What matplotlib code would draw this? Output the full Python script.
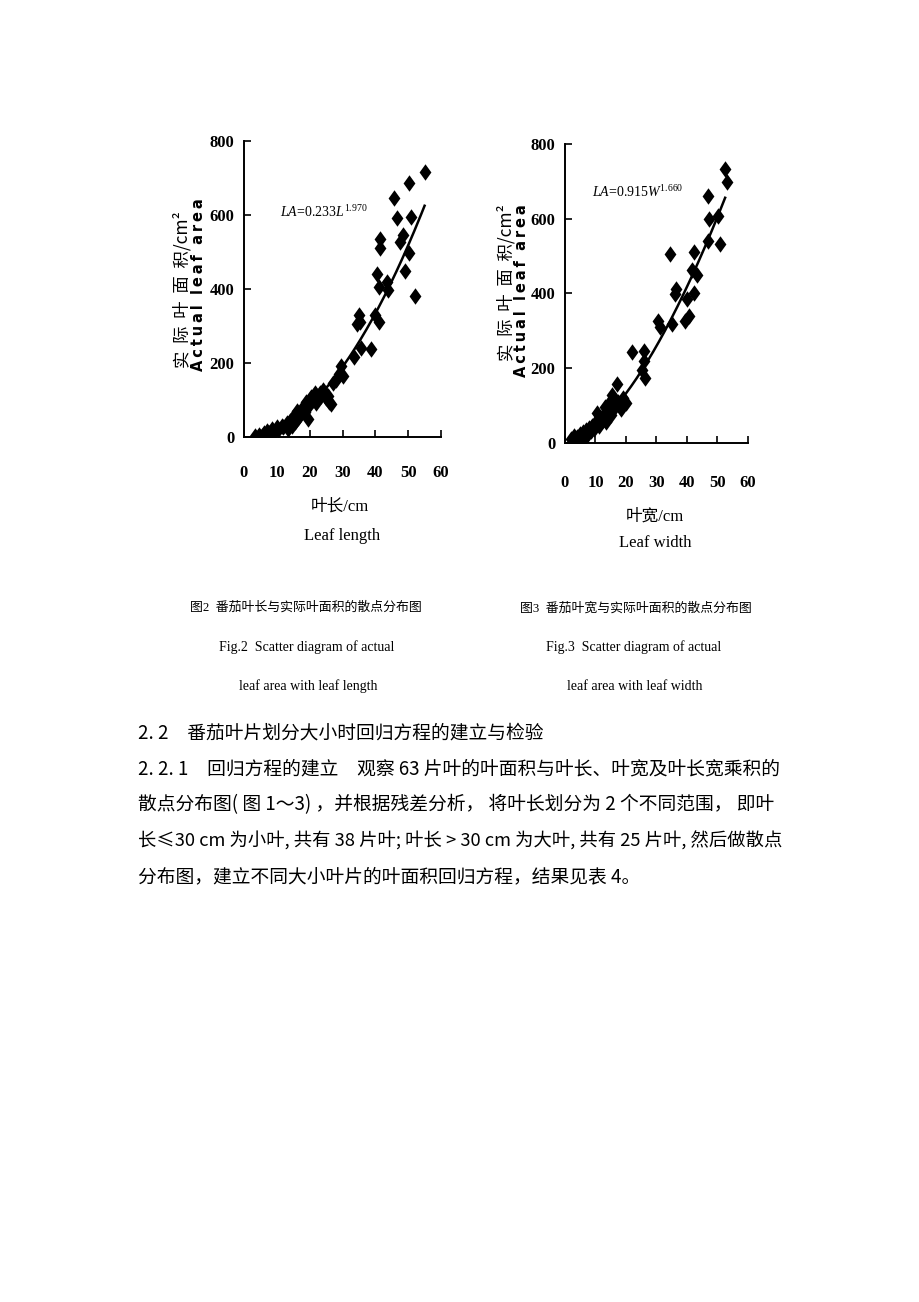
import numpy as np
import matplotlib
matplotlib.use("Agg")
import matplotlib.pyplot as plt

largo_L = [3.5, 4.5, 5.5, 6, 7, 7.5, 8.5, 9, 10, 10.5, 11.5, 12, 13, 13.5, 14, 14.5,
           15, 15.5, 16, 16.5, 17, 18, 18.5, 19, 19.5, 20, 20.5, 21, 21.5, 22, 23,
           23.5, 24, 25, 25.5, 26, 26.5, 27, 28, 29, 29.5, 30, 33.5, 34.5, 35, 35.2,
           35.5, 38.8, 40, 40.5, 41, 41.2, 41.3, 41.5, 43.5, 44, 45.6, 46.6, 47.4,
           48.4, 48.9, 50.2, 50.2, 50.8, 52.2, 55]
area_L = [2, 6, 3, 12, 16, 10, 22, 14, 28, 20, 30, 26, 38, 22, 44, 30,
          55, 40, 70, 52, 60, 80, 68, 95, 48, 88, 108, 100, 118, 92, 120,
          110, 126, 105, 112, 95, 88, 145, 155, 170, 192, 165, 215, 305, 330, 310,
          240, 238, 330, 440, 310, 405, 535, 510, 420, 398, 645, 592, 528,
          546, 448, 687, 497, 595, 380, 717]

ancho_W = [2, 2.5, 3, 3.5, 4, 5, 5.5, 6, 6.5, 7, 7.5, 8, 8.5, 9, 9.5, 10, 10.5,
           11, 11.5, 12, 12.5, 13, 13.5, 14, 14.5, 15, 15.5, 16, 16.5, 17, 17.5,
           18, 18.5, 19, 19.5, 20, 21.9, 25.2, 25.8, 26, 26.3, 30.6, 31.2, 34.4,
           35, 36, 36.5, 39.3, 40, 40.8, 41.5, 42.3, 42.3, 43.2, 47, 47.2, 47,
           50.1, 50.8, 52.5, 53.2]
area_W = [10, 4, 18, 6, 14, 22, 10, 28, 16, 34, 24, 40, 30, 46, 36, 52, 80,
          44, 60, 70, 62, 95, 55, 88, 105, 75, 128, 118, 95, 158, 110,
          100, 90, 120, 112, 105, 242, 195, 245, 220, 172, 325, 310, 505,
          318, 398, 412, 325, 385, 338, 462, 512, 402, 448, 540, 598, 660,
          608, 532, 732, 698]

# ecuaciones de regresion
coef_L, exp_L = 0.233, 1.970
coef_W, exp_W = 0.915, 1.660

x_ticks = [0, 10, 20, 30, 40, 50, 60]
y_ticks = [0, 200, 400, 600, 800]

cjk = ["Noto Sans CJK SC", "DejaVu Sans"]
serif = ["Liberation Serif", "Noto Sans CJK SC"]

plt.rcParams["mathtext.fontset"] = "custom"
plt.rcParams["mathtext.it"] = "Liberation Serif:italic"
plt.rcParams["mathtext.rm"] = "Liberation Serif"

fig = plt.figure(figsize=(9.2, 13.02), dpi=100)

# marcador rombo alto como en el escaneo
rombo = [(0, 1), (0.72, 0), (0, -1), (-0.72, 0), (0, 1)]


def grafico(rect, xs, ys, coef, expo, x_fin, eq_pos, eq_txt, xpad):
    ax = fig.add_axes(rect)
    ax.scatter(xs, ys, marker=rombo, s=140, c="black", linewidths=0, zorder=3)
    xc = np.linspace(3, x_fin, 200)
    ax.plot(xc, coef * xc ** expo, color="black", lw=1.8, zorder=2)
    ax.set_xlim(0, 60)
    ax.set_ylim(0, 800)
    ax.set_xticks(x_ticks)
    ax.set_yticks(y_ticks)
    ax.spines["top"].set_visible(False)
    ax.spines["right"].set_visible(False)
    ax.spines["left"].set_linewidth(1.4)
    ax.spines["bottom"].set_linewidth(1.4)
    ax.tick_params(axis="both", direction="in", length=5, width=1.2)
    ax.tick_params(axis="x", pad=xpad)
    ax.tick_params(axis="y", pad=7)
    for lab in ax.get_xticklabels() + ax.get_yticklabels():
        lab.set_fontfamily("Liberation Serif")
        lab.set_fontsize(12)
        lab.set_fontweight("bold")
    ax.text(eq_pos[0], eq_pos[1], eq_txt, fontsize=10, family="Liberation Serif",
            va="center")
    ax.patch.set_alpha(0)
    return ax


grafico([244 / 920, 1 - 437 / 1302, 197 / 920, 296 / 1302], largo_L, area_L,
        coef_L, exp_L, 55, (11, 608), r"$LA$=0.233$L^{1.970}$", 20)
grafico([565 / 920, 1 - 442.7 / 1302, 183 / 920, 298.7 / 1302], ancho_W, area_W,
        coef_W, exp_W, 52.5, (8.8, 672), r"$LA$=0.915$W^{1.660}$", 23)


def ft(x, y, s, **kw):
    fig.text(x / 920, 1 - y / 1302, s, **kw)


# etiquetas de ejes (texto espaciado como en el escaneo)
ylab_cn = "实  际  叶  面  积/cm²"
ylab_en = "\u2009".join("Actual") + "  " + "\u2009".join("leaf") + "  " + "\u2009".join("area")
ft(182, 290, ylab_cn, rotation=90, fontsize=12.5, family=cjk,
   ha="center", va="center")
ft(199, 285, ylab_en, rotation=90, fontsize=10.5, family="DejaVu Sans",
   fontweight="bold", ha="center", va="center")
ft(506, 283, ylab_cn, rotation=90, fontsize=12.5, family=cjk,
   ha="center", va="center")
ft(522, 291, ylab_en, rotation=90, fontsize=10.5, family="DejaVu Sans",
   fontweight="bold", ha="center", va="center")

ft(340, 507, "叶长/cm", fontsize=12, family=serif, ha="center", va="center")
ft(342, 536, "Leaf length", fontsize=12, family=serif, ha="center", va="center")
ft(655, 517, "叶宽/cm", fontsize=12, family=serif, ha="center", va="center")
ft(655, 543, "Leaf width", fontsize=12, family=serif, ha="center", va="center")

# pies de figura
ft(306, 608, "图2  番茄叶长与实际叶面积的散点分布图", fontsize=9.3, family=serif,
   ha="center", va="center")
ft(307, 647, "Fig.2  Scatter diagram of actual", fontsize=10, family=serif,
   ha="center", va="center")
ft(308, 686, "leaf area with leaf length", fontsize=10, family=serif,
   ha="center", va="center")
ft(636, 608, "图3  番茄叶宽与实际叶面积的散点分布图", fontsize=9.3, family=serif,
   ha="center", va="center")
ft(634, 647, "Fig.3  Scatter diagram of actual", fontsize=10, family=serif,
   ha="center", va="center")
ft(635, 686, "leaf area with leaf width", fontsize=10, family=serif,
   ha="center", va="center")

# texto del cuerpo
cuerpo = [
    "2. 2　番茄叶片划分大小时回归方程的建立与检验",
    "2. 2. 1　回归方程的建立　观察 63 片叶的叶面积与叶长、叶宽及叶长宽乘积的",
    "散点分布图( 图 1～3) ，并根据残差分析， 将叶长划分为 2 个不同范围， 即叶",
    "长≤30 cm 为小叶, 共有 38 片叶; 叶长 > 30 cm 为大叶, 共有 25 片叶, 然后做散点",
    "分布图，建立不同大小叶片的叶面积回归方程，结果见表 4。",
]
for i, linea in enumerate(cuerpo):
    tam = 13.2 if i == 3 else 13.5
    ft(138, 733 + i * 36, linea, fontsize=tam, family=cjk, ha="left",
       va="center")

plt.savefig("out.png", dpi=100)
plt.close()
